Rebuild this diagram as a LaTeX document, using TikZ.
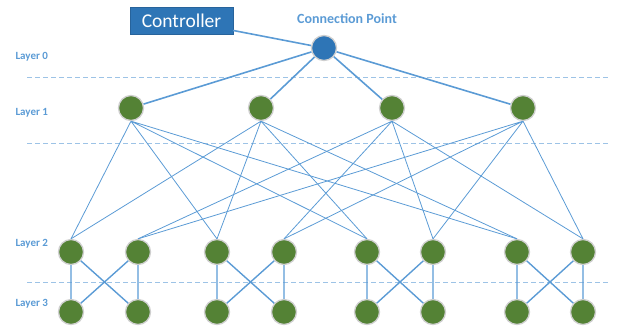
\documentclass[tikz,border=0pt]{standalone}
\usepackage{fontspec}
\setmainfont{Carlito}
\usetikzlibrary{positioning}
\definecolor{linkblue}{HTML}{5B9BD5}
\definecolor{dashblue}{HTML}{9DC3E6}
\definecolor{ctrlblue}{HTML}{2E75B6}
\definecolor{switchgreen}{HTML}{548235}
\definecolor{haze}{HTML}{CFCFCF}
\begin{document}
\begin{tikzpicture}[x=1pt,y=-1pt,
  sw/.style={circle,inner sep=0pt,minimum size=25pt,fill=switchgreen,draw=haze,line width=1.3pt},
  root/.style={sw,fill=ctrlblue},
  layer/.style={anchor=west,text=linkblue,font=\bfseries\fontsize{11}{13}\selectfont},
  up/.style={linkblue,line width=1.6pt},
  mid/.style={linkblue,line width=0.8pt},
  low/.style={linkblue,line width=1.4pt},
  sep/.style={dashblue,line width=0.8pt,dash pattern=on 5pt off 3pt}]
\useasboundingbox (0,0) rectangle (617,330);
% controller and connection point
\node[fill=ctrlblue,draw=ctrlblue!85!black,line width=0.3pt,minimum width=103pt,minimum height=27pt,text=white,font=\fontsize{19.5}{22}\selectfont] (ctrl) at (181.5,20.5) {Controller};
\node[text=linkblue,font=\bfseries\fontsize{14}{16}\selectfont] (cplabel) at (347,19) {Connection Point};
\node[root] (c) at (324,48) {};
% layer labels
\node[layer] (l0) at (12,57) {Layer 0};
\node[layer] (l1) at (12,113) {Layer 1};
\node[layer] (l2) at (12,244) {Layer 2};
\node[layer] (l3) at (12,304) {Layer 3};
% separators
\coordinate (s0a) at (27,77);  \coordinate (s0b) at (608,77);
\coordinate (s1a) at (27,143); \coordinate (s1b) at (608,143);
\coordinate (s2a) at (27,282); \coordinate (s2b) at (608,282);
\draw[sep] (s0a) -- (s0b);
\draw[sep] (s1a) -- (s1b);
\draw[sep] (s2a) -- (s2b);
% layer 1
\node[sw] (a1) at (131,108) {};
\node[sw] (a2) at (261,108) {};
\node[sw] (a3) at (392,108) {};
\node[sw] (a4) at (523,108) {};
% layer 2
\node[sw] (b1) at (71,252) {};
\node[sw] (b2) at (138,252) {};
\node[sw] (b3) at (217,252) {};
\node[sw] (b4) at (284,252) {};
\node[sw] (b5) at (367,252) {};
\node[sw] (b6) at (433,252) {};
\node[sw] (b7) at (517,252) {};
\node[sw] (b8) at (583,252) {};
% layer 3
\node[sw] (d1) at (71,312) {};
\node[sw] (d2) at (138,312) {};
\node[sw] (d3) at (217,312) {};
\node[sw] (d4) at (284,312) {};
\node[sw] (d5) at (367,312) {};
\node[sw] (d6) at (433,312) {};
\node[sw] (d7) at (517,312) {};
\node[sw] (d8) at (583,312) {};
% links
\draw[up] (ctrl) -- (c);
\draw[up] (c) -- (a1) (c) -- (a2) (c) -- (a3) (c) -- (a4);
\draw[mid] (a1.south) -- (b1.north) (a1.south) -- (b3.north) (a1.south) -- (b5.north) (a1.south) -- (b7.north);
\draw[mid] (a2.south) -- (b1.north) (a2.south) -- (b3.north) (a2.south) -- (b5.north) (a2.south) -- (b7.north);
\draw[mid] (a3.south) -- (b2.north) (a3.south) -- (b4.north) (a3.south) -- (b6.north) (a3.south) -- (b8.north);
\draw[mid] (a4.south) -- (b2.north) (a4.south) -- (b4.north) (a4.south) -- (b6.north) (a4.south) -- (b8.north);
\draw[low] (b1) -- (d1) (b1) -- (d2) (b2) -- (d1) (b2) -- (d2);
\draw[low] (b3) -- (d3) (b3) -- (d4) (b4) -- (d3) (b4) -- (d4);
\draw[low] (b5) -- (d5) (b5) -- (d6) (b6) -- (d5) (b6) -- (d6);
\draw[low] (b7) -- (d7) (b7) -- (d8) (b8) -- (d7) (b8) -- (d8);
\end{tikzpicture}
\end{document}
